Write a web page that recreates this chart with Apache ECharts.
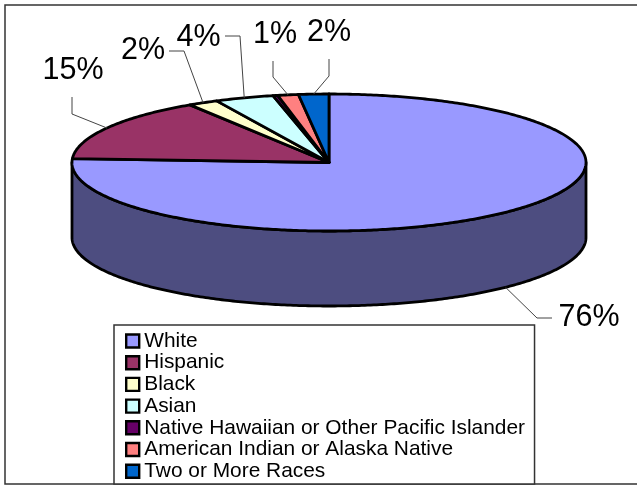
<!DOCTYPE html>
<html><head><meta charset="utf-8">
<style>html,body{margin:0;padding:0;background:#fff}#c{width:637px;height:485px}</style>
<script src="https://cdn.jsdelivr.net/npm/echarts@6/dist/echarts.min.js"></script>
</head><body><div id="c"></div>
<script>
// Data
const categories = ['White','Hispanic','Black','Asian','Native Hawaiian or Other Pacific Islander','American Indian or Alaska Native','Two or More Races'];
const shares = [75.9, 15, 1.9, 3.7, 0.3, 1.3, 1.9];
const percentLabels = ['76%','15%','2%','4%',null,'1%','2%'];
// Styling
const colors = ['#9999FF','#993366','#FFFFCC','#CCFFFF','#660066','#FF8080','#0066CC'];
const wallColor = '#4D4D80';
// Layout of pie (ellipse) and of the labels with their leader lines
const pie = {cx:329, cy:162.5, rx:257, ry:68.5, depth:75};
const labelLayout = [
  {x:589, y:317.5, elbow:[[552,318],[537,318]]},
  {x:73,  y:71,  elbow:[[72,97],[72,114]]},
  {x:143, y:51,  elbow:[[169,51],[184,51]]},
  {x:198.5, y:37.5,  elbow:[[225,36],[240,36]]},
  null,
  {x:275, y:34.5,  elbow:[[273,61],[273,77]]},
  {x:329, y:32.5,  elbow:[[329,59],[329,76]]}
];
const total = shares.reduce((a,b)=>a+b,0);
const pt = (deg, dy=0) => {
  const r = deg*Math.PI/180;
  return [pie.cx+pie.rx*Math.sin(r), pie.cy-pie.ry*Math.cos(r)+dy];
};
const arc = (a,b,dy=0) => {
  const out=[]; const n=Math.max(2,Math.ceil(Math.abs(b-a)*1.5));
  for(let i=0;i<=n;i++) out.push(pt(a+(b-a)*i/n,dy));
  return out;
};
const stroke = {stroke:'#000', lineWidth:2.8, lineJoin:'round'};

const series = categories.map((name,idx)=>({
  name, type:'custom', coordinateSystem:'none', silent:true, z:2+idx,
  itemStyle:{color:colors[idx]},
  data:[[shares[idx]]],
  renderItem:(params,api)=>{
    const before = shares.slice(0,idx).reduce((a,b)=>a+b,0);
    const a0 = before/total*360, a1 = (before+api.value(0))/total*360;
    const children=[];
    // visible outer wall: the part of the slice in the front half
    const w0=Math.max(a0,90), w1=Math.min(a1,270);
    if(w1>w0){
      children.push({type:'polygon',shape:{points:arc(w0,w1).concat(arc(w1,w0,pie.depth))},
        style:Object.assign({fill:wallColor},stroke)});
    }
    children.push({type:'polygon',shape:{points:[[pie.cx,pie.cy]].concat(arc(a0,a1))},
      style:Object.assign({fill:colors[idx]},stroke)});
    const lay=labelLayout[idx];
    if(lay){
      const mid=(a0+a1)/2;
      const front=mid>90&&mid<270;
      const anchor=pt(mid,front?pie.depth:0);
      children.push({type:'polyline',shape:{points:lay.elbow.concat([anchor])},
        style:{fill:null,stroke:'#444',lineWidth:1}});
      children.push({type:'text',style:{x:lay.x,y:lay.y,text:percentLabels[idx],
        fill:'#000',font:'30.5px "Liberation Sans"',align:'center',verticalAlign:'middle'}});
    }
    return {type:'group',children};
  }
}));

const chart = echarts.init(document.getElementById('c'),null,{renderer:'canvas'});
chart.setOption({
  animation:false,
  backgroundColor:'#fff',
  tooltip:{show:false},
  legend:{
    orient:'vertical', left:114, top:325, height:200, padding:[5.5,9.5,2.3,11],
    data:categories, icon:'rect', itemWidth:13, itemHeight:13, itemGap:0.7,
    selectedMode:false,
    itemStyle:{borderColor:'#000',borderWidth:2.4},
    textStyle:{fontFamily:'Liberation Sans',fontSize:20.9,lineHeight:21,color:'#000'},
    backgroundColor:'#fff', borderColor:'#333', borderWidth:1.5, z:20
  },
  graphic:[{type:'rect',z:0,silent:true,shape:{x:5,y:5,width:640,height:479},
    style:{fill:'#fff',stroke:'#333',lineWidth:1.5}}],
  series
});
</script></body></html>
